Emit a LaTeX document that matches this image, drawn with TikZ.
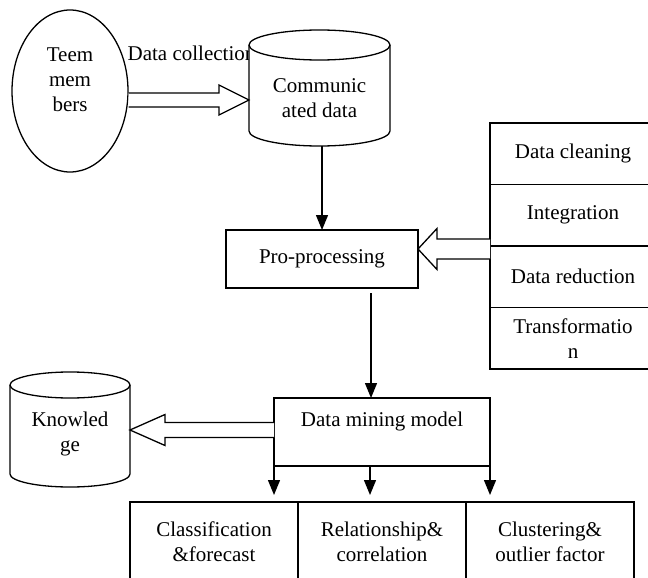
\documentclass[tikz,border=0pt]{standalone}
\usepackage{fontspec}
\setmainfont{Liberation Serif}
\usetikzlibrary{shapes.geometric,arrows.meta,positioning,calc}

\tikzset{
  every node/.style={font=\fontsize{21pt}{25pt}\selectfont},
  box/.style={draw, rectangle, align=center, inner sep=0pt, outer sep=0pt},
  stackbox/.style={box, minimum width=166pt, minimum height=61.5pt},
  taskbox/.style={box, minimum width=168pt, minimum height=80pt},
  flow/.style={-{Triangle[length=15pt,width=12pt]}},
  fat/.style={fill=white},
}

% upright cylinder round an empty node: node, x radius, y radius
\newcommand{\drum}[3]{%
  \draw[fill=white] ([yshift=-#3]#1.north west) -- ([yshift=#3]#1.south west)
    arc[start angle=180, end angle=360, x radius=#2, y radius=#3]
    -- ([yshift=-#3]#1.north east)
    arc[start angle=0, end angle=180, x radius=#2, y radius=#3] -- cycle;
  \draw ([yshift=-#3]#1.north west)
    arc[start angle=180, end angle=360, x radius=#2, y radius=#3];}

% hollow block arrow: from, to, shaft half width, head half width, head length
\newcommand{\hollowarrow}[5]{%
  \draw[fat] ($#1+(0,#3)$) -- ($#2!#5!#1+(0,#3)$) -- ($#2!#5!#1+(0,#4)$)
    -- #2 -- ($#2!#5!#1+(0,-#4)$) -- ($#2!#5!#1+(0,-#3)$) -- ($#1+(0,-#3)$);}

\begin{document}
\begin{tikzpicture}[x=1pt,y=1pt,line width=1.3pt]
\useasboundingbox (0,0) rectangle (648,-578);

% team and collected data
\node[draw, ellipse, minimum width=116pt, minimum height=162pt] (team) at (70,-91) {};
\node[align=center] (teamtxt) at ([yshift=11pt]team.center) {Teem\\mem\\bers};
\node[anchor=west, inner sep=0pt] (dc) at (127,-53) {Data collection};
\node[minimum width=141pt, minimum height=116pt, inner sep=0pt, outer sep=0pt] (comm) at (319.5,-88) {};
\drum{comm}{70.5pt}{15pt}
\node[align=center] (commtxt) at ([yshift=-10pt]comm.center) {Communic\\ated data};

\coordinate (dcs) at ([yshift=-9pt]team.east);
\coordinate (dce) at (comm.west |- dcs);
\hollowarrow{(dcs)}{(dce)}{7}{15}{30pt}

% pre-processing
\node[box, minimum width=192pt, minimum height=58pt] (pre) at (322,-259) {Pro-processing};
\draw[flow] (comm.south -| pre.north) -- (pre.north);

\node[stackbox] (clean) at (573,-153.75) {Data cleaning};
\node[stackbox, below=0pt of clean] (integ) {Integration};
\node[stackbox, below=0pt of integ] (reduc) {Data reduction};
\node[stackbox, below=0pt of reduc] (trans) {Transformatio\\n};

\coordinate (ps) at ([yshift=-3pt]integ.south west);
\coordinate (pe) at (pre.east |- ps);
\hollowarrow{(ps)}{(pe)}{10}{20.5}{19pt}

% mining
\node[box, minimum width=216pt, minimum height=68pt] (mine) at (382,-432) {Data mining model\\~};
\coordinate (ms) at ([xshift=49pt,yshift=-5pt]pre.south);
\draw[flow] (ms) -- (ms |- mine.north);

\node[minimum width=120pt, minimum height=115pt, inner sep=0pt, outer sep=0pt] (know) at (70,-429.5) {};
\drum{know}{60pt}{13pt}
\node[align=center] (knowtxt) at ([yshift=-4pt]know.center) {Knowled\\ge};

\coordinate (ks) at ([yshift=2pt]mine.west);
\coordinate (ke) at (know.east |- ks);
\hollowarrow{(ks)}{(ke)}{7.5}{15.5}{35pt}

% tasks
\node[taskbox] (cls) at (214,-542) {Classification\\\&forecast};
\node[taskbox, right=0pt of cls] (rel) {Relationship\&\\correlation};
\node[taskbox, right=0pt of rel] (clu) {Clustering\&\\outlier factor};

\draw[flow] (mine.south west) -- ([yshift=7pt]mine.south west |- cls.north);
\draw[flow] ([xshift=-12pt]mine.south) -- ([xshift=-12pt,yshift=7pt]mine.south |- rel.north);
\draw[flow] (mine.south east) -- ([yshift=7pt]mine.south east |- clu.north);
\end{tikzpicture}
\end{document}
